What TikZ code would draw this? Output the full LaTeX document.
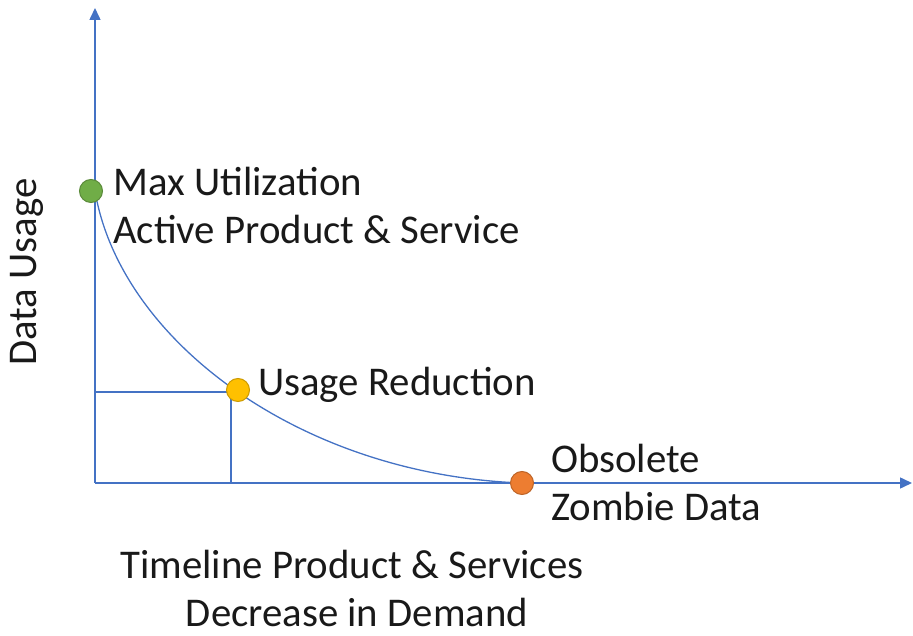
\documentclass[tikz,border=0pt]{standalone}
\usepackage{fontspec}
\setmainfont{Carlito}
\usetikzlibrary{arrows.meta}
\definecolor{axisblue}{RGB}{68,114,196}
\definecolor{dotgreen}{RGB}{112,173,71}
\definecolor{dotyellow}{RGB}{255,192,0}
\definecolor{dotorange}{RGB}{237,125,49}
\tikzset{
  axis/.style={draw=axisblue, line width=1.5pt, -{Triangle[length=12pt,width=11pt]}},
  guide/.style={draw=axisblue, line width=1.5pt},
  curve/.style={draw=axisblue, line width=1.3pt},
  dot/.style={circle, minimum size=23pt, inner sep=0pt, line width=1pt},
  lbl/.style={font=\fontsize{40.8}{48}\selectfont, inner sep=0pt, text=black!90},
}
\begin{document}
\begin{tikzpicture}[x=1pt,y=1pt]
\useasboundingbox (0,0) rectangle (913,635);
% axes
\coordinate (o) at (95,152);
\coordinate (ytop) at (95,627);
\coordinate (xend) at (912,152);
\draw[axis] (o) -- (ytop);
\draw[axis] (o) -- (xend);
% guide lines to the reduction point
\coordinate (gy) at (95,243);
\coordinate (gc) at (231,243);
\coordinate (gx) at (231,152);
\draw[guide] (gy) -- (gc) -- (gx);
% decay curve
\coordinate (cs) at (95,444);
\coordinate (ce) at (522,152);
\draw[curve] (cs) .. controls (120,295) and (300,160) .. (ce);
% points
\node[dot, fill=dotgreen, draw=dotgreen!80!black] (pmax) at (91,444) {};
\node[dot, fill=dotyellow, draw=dotyellow!80!black] (pred) at (238,245) {};
\node[dot, fill=dotorange, draw=dotorange!80!black] (pobs) at (522,152) {};
% labels
\node[lbl, anchor=base west] (t1) at (113,439) {Max Utilization};
\node[lbl, anchor=base west] (t2) at (113,391) {Active Product \& Service};
\node[lbl, anchor=base west] (t3) at (258,239) {Usage Reduction};
\node[lbl, anchor=base west] (t4) at (551,162) {Obsolete};
\node[lbl, anchor=base west] (t5) at (551,114) {Zombie Data};
\node[lbl, anchor=base] (t6) at (352,57) {Timeline Product \& Services};
\node[lbl, anchor=base] (t7) at (357,9) {Decrease in Demand};
\node[lbl, rotate=90] (t8) at (27,363) {Data Usage};
\end{tikzpicture}
\end{document}
